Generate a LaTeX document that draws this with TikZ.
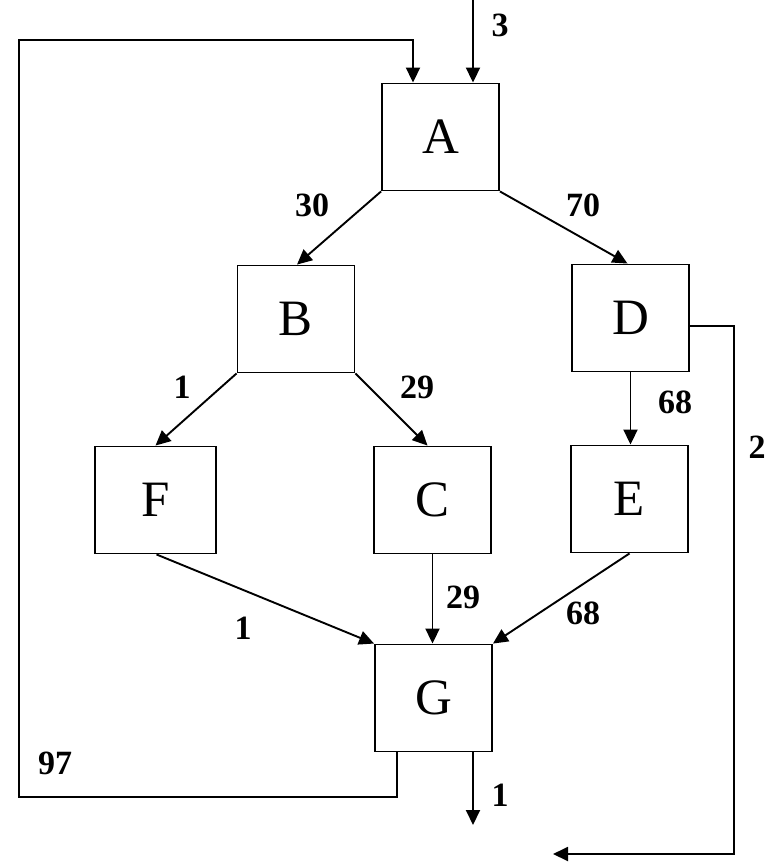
\documentclass[tikz,border=0pt]{standalone}
\usepackage{fontspec}
\setmainfont{Liberation Serif}
\usetikzlibrary{arrows.meta}
\begin{document}
\begin{tikzpicture}[x=1pt,y=-1pt,
  box/.style={draw,line width=1.9pt,minimum width=117pt,minimum height=107pt,inner sep=0pt,font=\fontsize{51}{55}\selectfont},
  flow/.style={line width=1.9pt,-{Triangle[length=15pt,width=14pt]}},
  num/.style={font=\fontsize{34}{38}\selectfont\bfseries,inner sep=0pt}]
\useasboundingbox (0,0) rectangle (775,865);
\node[box] (A) at (440.5,137) {A};
\node[box] (B) at (296,319) {B};
\node[box] (D) at (630.5,318) {D};
\node[box,minimum width=121pt] (F) at (155.5,500) {F};
\node[box] (C) at (432.5,500) {C};
\node[box] (E) at (629.5,499) {E};
\node[box] (G) at (433.5,698) {G};
% inputs
\coordinate (in) at (473,0);
\draw[flow] (in) -- (in |- A.north);
\coordinate (fbA) at (413,40);
\coordinate (fbL) at (19,40);
\coordinate (fbB) at (19,797);
\coordinate (fbG) at (397,797);
\draw[flow] (G.south -| fbG) -- (fbG) -- (fbB) -- (fbL) -- (fbA) -- (fbA |- A.north);
% tree
\draw[flow] (A.south west) -- ([xshift=1pt]B.north);
\draw[flow] (A.south east) -- ([xshift=-3pt]D.north);
\draw[flow] (B.south west) -- (F.north);
\draw[flow] (B.south east) -- ([xshift=-5pt]C.north);
\draw[flow] (D.south) -- (D.south |- E.north);
\draw[flow] ([xshift=1pt]F.south) -- (G.north west);
\draw[flow] (C.south) -- (C.south |- G.north);
\draw[flow] (E.south) -- (G.north east);
% outputs
\coordinate (out) at (473,825);
\draw[flow] (out |- G.south) -- (out);
\coordinate (dR) at (734,326);
\coordinate (dB) at (734,854);
\coordinate (dE) at (553,854);
\draw[flow] (D.east |- dR) -- (dR) -- (dB) -- (dE);
% labels
\node[num] (l3) at (500,25) {3};
\node[num] (l97) at (55,763) {97};
\node[num] (l30) at (312,205) {30};
\node[num] (l70) at (583,205) {70};
\node[num] (l1a) at (182,387) {1};
\node[num] (l29a) at (417,387) {29};
\node[num] (l68a) at (675,402) {68};
\node[num] (l2) at (757,447) {2};
\node[num] (l29b) at (463,597) {29};
\node[num] (l1b) at (243,628) {1};
\node[num] (l68b) at (583,613) {68};
\node[num] (l1c) at (500,795) {1};
\end{tikzpicture}
\end{document}
